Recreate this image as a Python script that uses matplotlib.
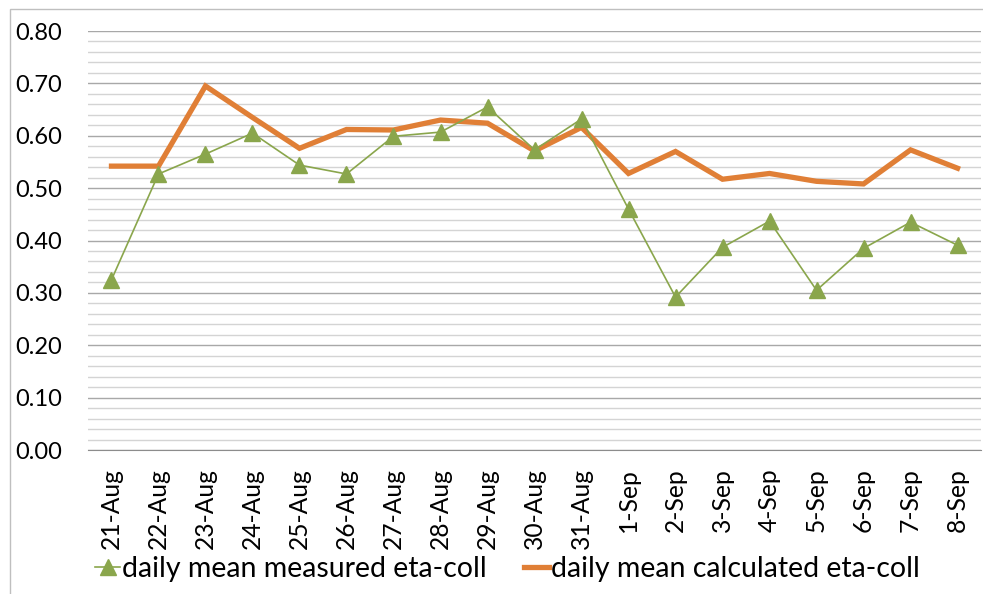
import matplotlib
matplotlib.use("Agg")
import matplotlib.pyplot as plt
from matplotlib.patches import Rectangle
from matplotlib.ticker import MultipleLocator

days = ["21-Aug", "22-Aug", "23-Aug", "24-Aug", "25-Aug", "26-Aug", "27-Aug",
        "28-Aug", "29-Aug", "30-Aug", "31-Aug", "1-Sep", "2-Sep", "3-Sep",
        "4-Sep", "5-Sep", "6-Sep", "7-Sep", "8-Sep"]
measured = [0.325, 0.527, 0.565, 0.605, 0.544, 0.527, 0.599, 0.607, 0.655, 0.573,
            0.632, 0.460, 0.292, 0.387, 0.437, 0.305, 0.385, 0.435, 0.391]
calculated = [0.542, 0.542, 0.695, 0.635, 0.576, 0.612, 0.611, 0.630, 0.624, 0.571,
              0.616, 0.528, 0.570, 0.517, 0.528, 0.513, 0.508, 0.573, 0.538]

green = "#8aa64c"
orange = "#e07f36"

plt.rcParams["font.family"] = ["Lato", "DejaVu Sans"]

fig = plt.figure(figsize=(9.83, 5.94), dpi=100)
ax = fig.add_axes([0.0895, 0.2424, 0.9085, 0.7054])

x = range(len(days))
ax.plot(x, measured, color=green, lw=1.2, marker="^", markersize=12,
        label="daily mean measured eta-coll", zorder=3)
ax.plot(x, calculated, color=orange, lw=3.8, solid_joinstyle="miter",
        label="daily mean calculated eta-coll", zorder=2)

ax.set_xlim(-0.5, len(days) - 0.5)
ax.set_ylim(0, 0.8)
ax.yaxis.set_major_locator(MultipleLocator(0.1))
ax.yaxis.set_minor_locator(MultipleLocator(0.02))
ax.yaxis.set_major_formatter(lambda v, p: f"{v:.2f}")
ax.grid(which="major", axis="y", color="#a8a8a8", lw=1.0)
ax.grid(which="minor", axis="y", color="#d4d4d4", lw=1.0)
ax.set_axisbelow(True)

ax.set_xticks(list(x))
ax.set_xticklabels(days, rotation=90)
ax.tick_params(axis="both", which="both", length=0, colors="black")
ax.tick_params(axis="y", labelsize=17, pad=18.5)
ax.tick_params(axis="x", labelsize=17.7, pad=13)

for s in ["top", "right", "left"]:
    ax.spines[s].set_visible(False)
ax.spines["bottom"].set_color("#8c8c8c")

# outer chart border
fig.patches.append(Rectangle((10 / 983, -0.1), 1.2, 1.1 - 9 / 594,
                             transform=fig.transFigure, fill=False,
                             edgecolor="#bfbfbf", lw=1.0))

fig.legend(loc="center left", bbox_to_anchor=(95 / 983, 1 - 569 / 594), ncol=2,
           frameon=False, fontsize=20.5, handlelength=0.88, handletextpad=0.08,
           columnspacing=1.3, borderpad=0, borderaxespad=0)

fig.savefig("out.png", dpi=100)
